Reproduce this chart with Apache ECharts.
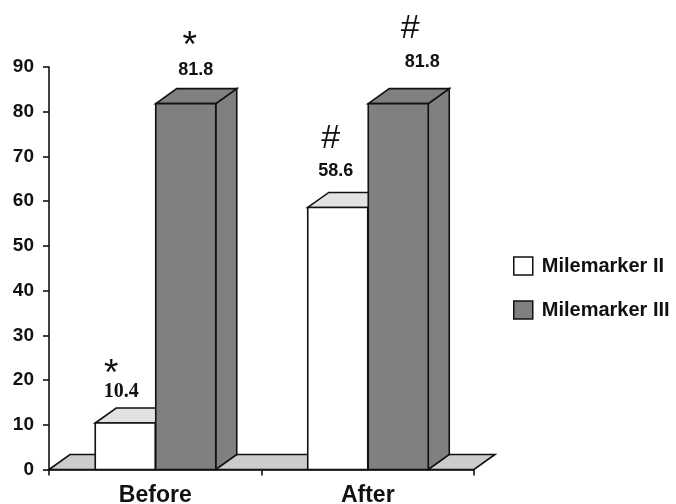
<!DOCTYPE html>
<html>
<head>
<meta charset="utf-8">
<script src="https://cdn.jsdelivr.net/npm/echarts@6/dist/echarts.min.js"></script>
<style>
html,body{margin:0;padding:0;background:#fff}
#main{width:676px;height:504px}
</style>
</head>
<body>
<div id="main"></div>
<script>
// data
var categories = ['Before', 'After'];
var seriesNames = ['Milemarker II', 'Milemarker III'];
var mm2Values = [10.4, 58.6];
var mm3Values = [81.8, 81.8];
var mm2Marks = ['*', '#'];
var mm3Marks = ['*', '#'];
var yMin = 0, yMax = 90, yStep = 10;

// look of the pseudo-3d boxes
var BAR_W = 60, DEPTH_X = 21, DEPTH_Y = 15;
var LINE = '#111';
var SANS = '"Liberation Sans", Arial, sans-serif';
// hand placed annotations in the original: [dx value, dy value, dy mark, dx mark]
var mm2LabelPos = [[-4, -31, -48, -14], [-2, -36, -69, -7]];
var mm3LabelPos = [[10, -34, -57, 4], [24, -42, -75, 12]];

var chart = echarts.init(document.getElementById('main'));

function txt(x, y, text, font) {
  return { type: 'text', x: x, y: y, style: { text: text, font: font, fill: '#111', align: 'center', verticalAlign: 'middle', textAlign: 'center', textVerticalAlign: 'middle' } };
}

function box(api, dataIndex, side, colors, labelPos, marks, valueFont) {
  var cat = api.value(0), val = api.value(1);
  var top = api.coord([cat, val]);
  var base = api.coord([cat, 0]);
  var x0 = side === 0 ? top[0] - BAR_W : top[0] + 0.5;
  var x1 = x0 + BAR_W;
  var yt = top[1], yb = base[1];
  var lp = labelPos[dataIndex];
  var cx = (x0 + x1) / 2;
  var st = function (fill) { return { fill: fill, stroke: LINE, lineWidth: 1.6 }; };
  var mark = marks[dataIndex];
  return {
    type: 'group',
    children: [
      { type: 'polygon', shape: { points: [[x1, yb], [x1 + DEPTH_X, yb - DEPTH_Y], [x1 + DEPTH_X, yt - DEPTH_Y], [x1, yt]] }, style: st(colors.side) },
      { type: 'polygon', shape: { points: [[x0, yt], [x1, yt], [x1 + DEPTH_X, yt - DEPTH_Y], [x0 + DEPTH_X, yt - DEPTH_Y]] }, style: st(colors.top) },
      { type: 'rect', shape: { x: x0, y: yt, width: BAR_W, height: yb - yt }, style: st(colors.front) },
      txt(cx + lp[0], yt + lp[1], String(val), valueFont),
      txt(cx + lp[3], yt + lp[2], mark, mark === '*' ? 'normal 37px ' + SANS : 'normal 34px ' + SANS)
    ]
  };
}

var option = {
  backgroundColor: '#fff',
  animation: false,
  grid: { left: 49, right: 202, top: 67, bottom: 34.5, containLabel: false, outerBoundsMode: 'none' },
  legend: {
    orient: 'vertical',
    left: 513,
    top: 256,
    padding: 0,
    itemWidth: 19,
    itemHeight: 18,
    itemGap: 24,
    textStyle: { fontFamily: SANS, fontWeight: 'bold', fontSize: 20, color: '#111', padding: [0, 0, 0, 4] },
    data: [
      { name: seriesNames[0], icon: 'rect', itemStyle: { color: '#ffffff', borderColor: LINE, borderWidth: 1.5 } },
      { name: seriesNames[1], icon: 'rect', itemStyle: { color: '#808080', borderColor: LINE, borderWidth: 1.5 } }
    ]
  },
  xAxis: {
    type: 'category',
    data: categories,
    boundaryGap: true,
    axisLine: { lineStyle: { color: LINE, width: 1.6 } },
    axisTick: { show: true, length: 6, lineStyle: { color: LINE, width: 1.6 } },
    axisLabel: { margin: 15, color: '#111', fontFamily: SANS, fontWeight: 'bold', fontSize: 23 },
    splitLine: { show: false }
  },
  yAxis: {
    type: 'value',
    min: yMin,
    max: yMax,
    interval: yStep,
    axisLine: { show: true, lineStyle: { color: LINE, width: 1.6 } },
    axisTick: { show: true, length: 6, lineStyle: { color: LINE, width: 1.6 } },
    axisLabel: { margin: 15, color: '#111', fontFamily: SANS, fontWeight: 'bold', fontSize: 19 },
    splitLine: { show: false }
  },
  series: [
    {
      // floor under the boxes
      type: 'custom',
      name: 'floor',
      silent: true,
      z: 1,
      data: [[0, yMin]],
      renderItem: function (params, api) {
        var cs = params.coordSys;
        var y0 = api.coord([0, yMin])[1];
        var xl = cs.x, xr = cs.x + cs.width;
        return {
          type: 'polygon',
          shape: { points: [[xl, y0], [xr, y0], [xr + DEPTH_X, y0 - DEPTH_Y], [xl + DEPTH_X, y0 - DEPTH_Y]] },
          style: { fill: '#cccccc', stroke: LINE, lineWidth: 1.6 }
        };
      }
    },
    {
      type: 'custom',
      name: seriesNames[0],
      z: 2,
      data: mm2Values.map(function (v, i) { return [i, v]; }),
      renderItem: function (params, api) {
        return box(api, params.dataIndex, 0, { front: '#ffffff', top: '#e2e2e2', side: '#ffffff' }, mm2LabelPos, mm2Marks,
          params.dataIndex === 0 ? 'bold 20px "Liberation Serif", "Times New Roman", serif' : 'bold 18px ' + SANS);
      }
    },
    {
      type: 'custom',
      name: seriesNames[1],
      z: 3,
      data: mm3Values.map(function (v, i) { return [i, v]; }),
      renderItem: function (params, api) {
        return box(api, params.dataIndex, 1, { front: '#808080', top: '#808080', side: '#808080' }, mm3LabelPos, mm3Marks,
          'bold 18px ' + SANS);
      }
    }
  ]
};

chart.setOption(option);
</script>
</body>
</html>
